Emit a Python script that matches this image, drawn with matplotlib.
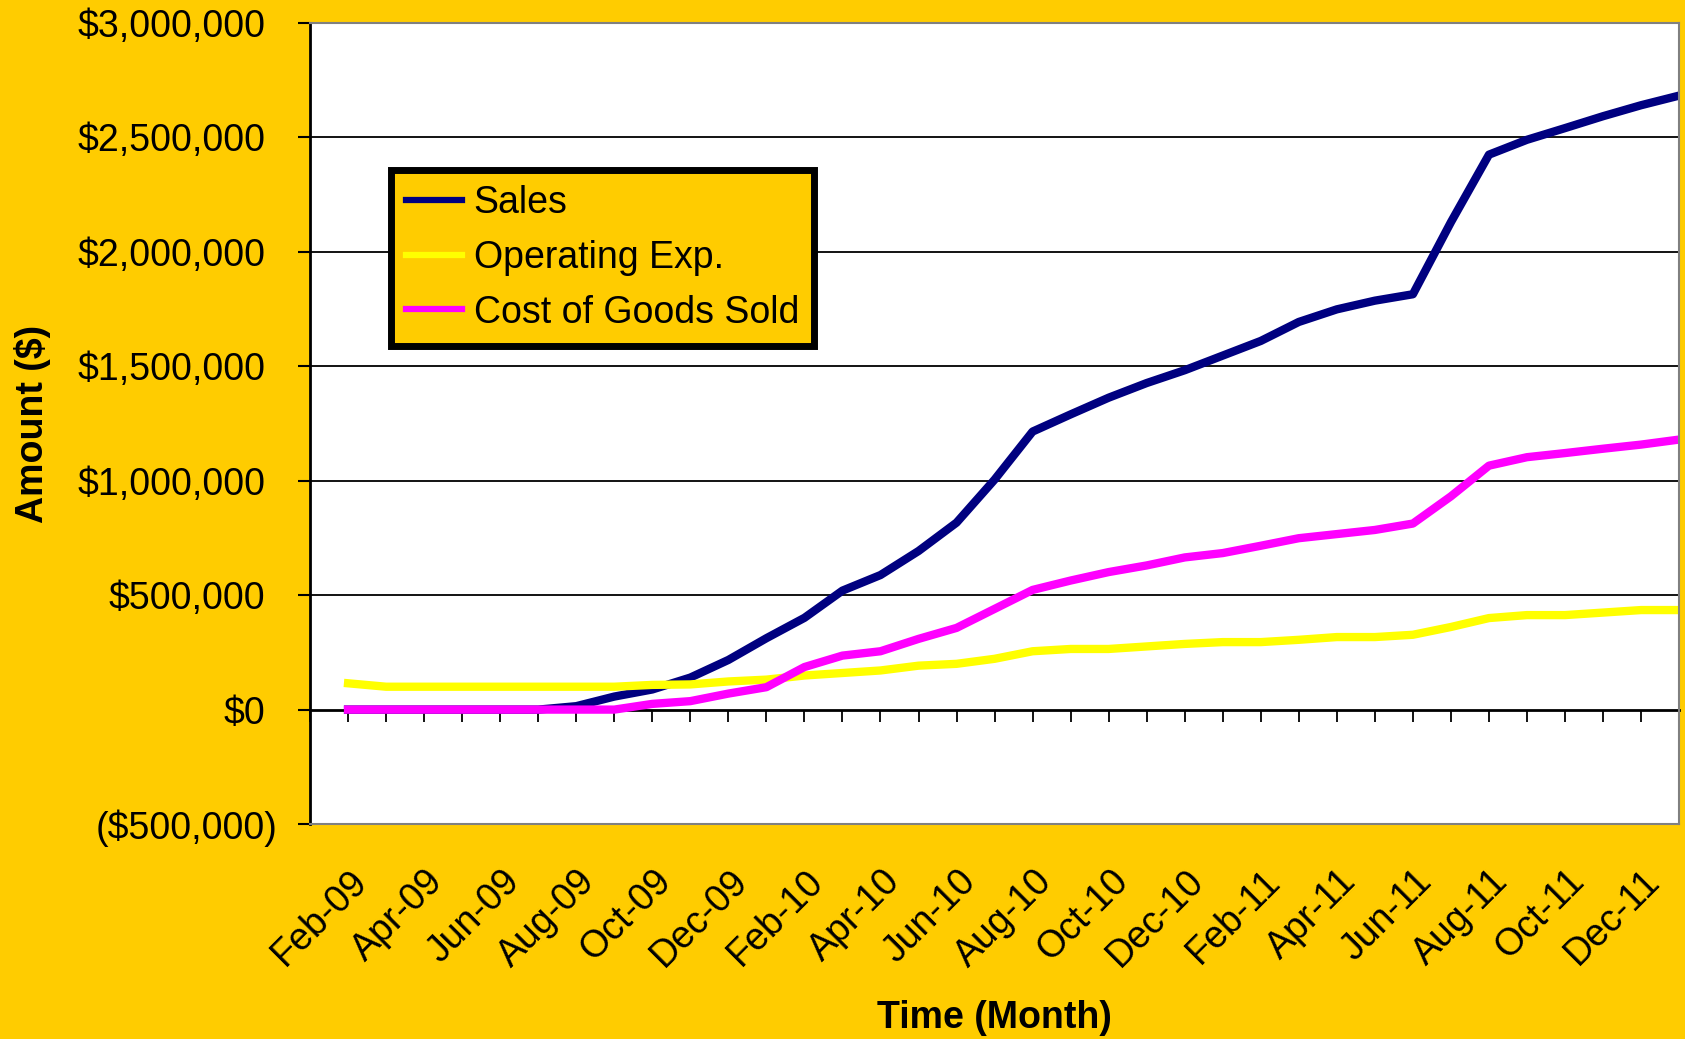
import matplotlib
matplotlib.use("Agg")
import matplotlib.pyplot as plt
import matplotlib.transforms as mtransforms
import numpy as np

plt.rcParams['font.family'] = ['Liberation Sans', 'DejaVu Sans']

months = ["Feb-09", "Mar-09", "Apr-09", "May-09", "Jun-09", "Jul-09", "Aug-09", "Sep-09", "Oct-09",
          "Nov-09", "Dec-09", "Jan-10", "Feb-10", "Mar-10", "Apr-10", "May-10", "Jun-10", "Jul-10",
          "Aug-10", "Sep-10", "Oct-10", "Nov-10", "Dec-10", "Jan-11", "Feb-11", "Mar-11", "Apr-11",
          "May-11", "Jun-11", "Jul-11", "Aug-11", "Sep-11", "Oct-11", "Nov-11", "Dec-11", "Jan-12"]

# values in $
sales = [0, 0, 0, 0, 0, 0, 15000, 57000, 88000, 140000, 217000, 312000,
         401000, 520000, 588000, 693000, 817000, 1005000, 1215000, 1290000, 1363000, 1427000,
         1483000, 1547000, 1611000, 1694000, 1749000, 1787000, 1815000, 2130000, 2425000,
         2490000, 2541000, 2593000, 2641000, 2683000]
opex = [115000, 100000, 100000, 100000, 100000, 100000, 100000, 100000, 108000, 110000,
        123000, 131000, 149000, 160000, 171000, 192000, 200000, 222000, 255000, 265000,
        265000, 276000, 287000, 295000, 295000, 305000, 317000, 317000, 327000, 361000,
        400000, 413000, 413000, 424000, 435000, 435000]
cogs = [0, 0, 0, 0, 0, 0, 0, 0, 25000, 37000, 70000, 98000, 186000, 236000, 255000,
        309000, 357000, 440000, 523000, 564000, 601000, 630000, 665000, 684000, 716000,
        749000, 767000, 785000, 813000, 932000, 1066000, 1103000, 1121000, 1140000,
        1158000, 1180000]

y_ticks = list(range(-500000, 3000001, 500000))


def money(v):
    if v < 0:
        return "(${:,.0f})".format(-v)
    return "${:,.0f}".format(v)


bg = '#FFCC00'
fig = plt.figure(figsize=(16.85, 10.39), dpi=100, facecolor=bg)
ax = fig.add_axes([0.1840, 0.2069, 0.8125, 0.7709])
ax.set_facecolor('white')
ax.set_axisbelow(True)

x = np.arange(len(months))
ax.plot(x, sales, color='#000080', lw=6, label='Sales', solid_joinstyle='round')
ax.plot(x, opex, color='#FFFF00', lw=6, label='Operating Exp.', solid_joinstyle='round')
ax.plot(x, cogs, color='#FF00FF', lw=6, label='Cost of Goods Sold', solid_joinstyle='round')

ymin, ymax = y_ticks[0], y_ticks[-1]
ax.set_xlim(-1, len(months) - 1)
ax.set_ylim(ymin, ymax)

# y axis
ax.set_yticks(y_ticks)
ax.set_yticklabels([money(v) for v in y_ticks])
ax.tick_params(axis='y', direction='out', length=8.6, width=1.5, pad=23.5,
               labelsize=27, colors='black')
ax.yaxis.grid(True, color='black', lw=1.3)
glines = ax.get_ygridlines()
glines[0].set_visible(False)
glines[1].set_visible(False)
glines[-1].set_visible(False)
for lbl, v in zip(ax.get_yticklabels(), y_ticks):
    if v < 0:
        lbl.set_transform(lbl.get_transform() +
                          mtransforms.ScaledTranslation(0.12, 0, fig.dpi_scale_trans))

for side in ['top', 'right', 'bottom']:
    ax.spines[side].set_color('#808080')
    ax.spines[side].set_linewidth(1.5)
ax.spines['left'].set_color('black')
ax.spines['left'].set_linewidth(2)

# category axis through $0 with a tick every month
zero_frac = (0 - ymin) / (ymax - ymin)
zax = ax.secondary_xaxis(zero_frac)
zax.set_xticks(np.arange(-1, len(months)))
zax.tick_params(axis='x', direction='out', length=8.6, width=1.3, labelbottom=False,
                colors='black')
zax.spines['bottom'].set_linewidth(2)
zax.spines['bottom'].set_color('black')

# month labels below the plot, every second month
ax.set_xticks(x[::2])
ax.set_xticklabels(months[::2])
ax.tick_params(axis='x', length=0, pad=28, labelsize=27)
shift = mtransforms.ScaledTranslation(0.01, 0, fig.dpi_scale_trans)
for lbl in ax.get_xticklabels():
    lbl.set_rotation(45)
    lbl.set_ha('right')
    lbl.set_va('top')
    lbl.set_rotation_mode('anchor')
    lbl.set_transform(lbl.get_transform() + shift)

ax.set_xlabel("Time (Month)", fontsize=27, fontweight='bold', va='center')
ax.xaxis.set_label_coords(0.5, -0.242)
ax.set_ylabel("Amount ($)", fontsize=27, fontweight='bold', va='center', ha='center')
ax.yaxis.set_label_coords(-0.203, 0.5)

leg = ax.legend(loc='upper left', bbox_to_anchor=(391 / 1685, 1 - 170 / 1039),
                bbox_transform=fig.transFigure, fontsize=27, fancybox=False,
                edgecolor='black', facecolor=bg, framealpha=1, handlelength=1.5,
                handletextpad=0.3, labelspacing=0.5, borderpad=0.4, borderaxespad=0)
leg.get_frame().set_linewidth(5)
for h in leg.get_lines():
    h.set_linewidth(4.5)

fig.savefig("out.png", dpi=100, facecolor=bg)
